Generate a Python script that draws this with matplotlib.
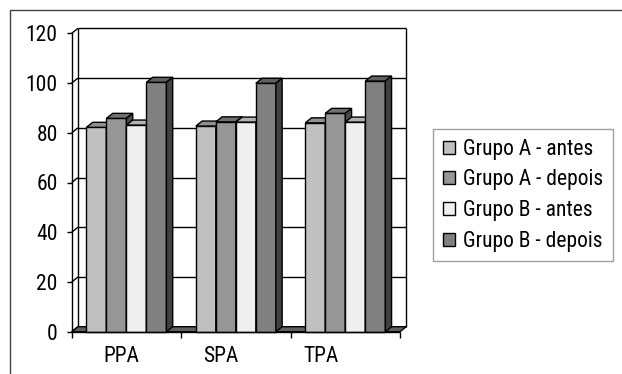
import matplotlib.pyplot as plt
from matplotlib.patches import Polygon, Rectangle
from matplotlib.colors import to_rgb

categories = ['PPA', 'SPA', 'TPA']
series = ['Grupo A - antes', 'Grupo A - depois', 'Grupo B - antes', 'Grupo B - depois']
grupo_a_antes = [82.2, 82.7, 84.0]
grupo_a_depois = [85.8, 84.4, 87.8]
grupo_b_antes = [83.1, 84.3, 84.3]
grupo_b_depois = [100.3, 99.9, 100.8]
y_ticks = [0, 20, 40, 60, 80, 100, 120]

values = [grupo_a_antes, grupo_a_depois, grupo_b_antes, grupo_b_depois]
colors = ['#c0c0c0', '#969696', '#efefef', '#808080']

plt.rcParams['font.family'] = ['Liberation Sans Narrow', 'Roboto Condensed',
                               'DejaVu Sans Condensed', 'Roboto', 'DejaVu Sans']


def shade(c, f):
    r, g, b = to_rgb(c)
    return (r * f, g * f, b * f)


W, H = 622, 374
fig = plt.figure(figsize=(W / 100, H / 100), dpi=100)

# outer frame (cut by the right and bottom edges)
fig.patches.append(Rectangle((9.5 / W, -0.1), 1.2, 1.1 - 10 / H, transform=fig.transFigure,
                             fill=False, edgecolor='#404040', lw=1.0))

# front plane of the 3D plot
ax_l, ax_b, ax_w, ax_h = 71.7 / W, (H - 331.7) / H, 328.3 / W, 298.4 / H
ax = fig.add_axes([ax_l, ax_b, ax_w, ax_h])
ax.set_xlim(-0.5, len(categories) - 0.5)
ax.set_ylim(0, 120)
ax.patch.set_visible(False)
for s in ['top', 'right', 'bottom']:
    ax.spines[s].set_visible(False)
ax.spines['left'].set_linewidth(1.0)

# depth offset, pixels -> data
dx = 6.3 * len(categories) / (ax_w * W)
dy = 5.0 * 120 / (ax_h * H)
x_lo, x_hi = -0.5, len(categories) - 0.5
lc = dict(color='black', lw=1.0, clip_on=False, solid_capstyle='butt')

# back wall gridlines and edges
for v in y_ticks[1:]:
    ax.plot([x_lo + dx, x_hi + dx], [v + dy, v + dy], zorder=1, **lc)
for v in y_ticks:
    ax.plot([x_lo, x_lo + dx], [v, v + dy], zorder=1, **lc)
ax.plot([x_lo + dx, x_lo + dx], [dy, 120 + dy], zorder=1, **lc)
ax.plot([x_hi + dx, x_hi + dx], [dy, 120 + dy], zorder=1, **lc)

# floor
ax.add_patch(Polygon([(x_lo, 0), (x_hi, 0), (x_hi + dx, dy), (x_lo + dx, dy)],
                     closed=True, facecolor='#606060', edgecolor='black', lw=1.0,
                     clip_on=False, zorder=2))

# bars
bw = 20 / 109.43
gap = (1 - len(series) * bw) / 2
handles = []
for k, (vals, c) in enumerate(zip(values, colors)):
    xs = [i - 0.5 + gap + k * bw for i in range(len(categories))]
    bars = ax.bar(xs, vals, width=bw, align='edge', color=c, edgecolor='black',
                  lw=1.0, label=series[k], clip_on=False)
    handles.append(bars)
    for i, (x0, h) in enumerate(zip(xs, vals)):
        z = 3 + (i * len(series) + k) * 0.01
        bars[i].set_zorder(z)
        top = Polygon([(x0, h), (x0 + bw, h), (x0 + bw + dx, h + dy), (x0 + dx, h + dy)],
                      closed=True, facecolor=shade(c, 0.75), edgecolor='black', lw=1.0,
                      clip_on=False, zorder=z)
        side = Polygon([(x0 + bw, 0), (x0 + bw + dx, dy), (x0 + bw + dx, h + dy), (x0 + bw, h)],
                       closed=True, facecolor=shade(c, 0.5), edgecolor='black', lw=1.0,
                       clip_on=False, zorder=z)
        ax.add_patch(top)
        ax.add_patch(side)

# front bottom edge
ax.plot([x_lo, x_hi], [0, 0], zorder=4, **lc)

# ticks
ax.set_yticks(y_ticks)
ax.tick_params(axis='y', direction='out', length=3.6, width=1.0, pad=6.5, labelsize=15.5)
ax.set_xticks([x_lo + i for i in range(len(categories) + 1)])
ax.set_xticklabels([''] * (len(categories) + 1))
ax.tick_params(axis='x', which='major', direction='out', length=4.3, width=1.0)
label_shift = [0.05, 0.14, 0.22]
ax.set_xticks([i - s for i, s in enumerate(label_shift)], minor=True)
ax.set_xticklabels(categories, minor=True)
ax.tick_params(axis='x', which='minor', length=0, pad=10.5, labelsize=15.5)

# legend
leg = fig.legend(handles, series, loc='upper left', bbox_to_anchor=(433 / W, 1 - 129 / H),
                 frameon=True, fancybox=False, edgecolor='#a0a0a0', framealpha=1,
                 fontsize=15.5, handlelength=0.56, handleheight=0.56, handletextpad=0.4,
                 labelspacing=0.45, borderpad=0.45, borderaxespad=0)
leg.get_frame().set_linewidth(1.0)

fig.savefig('out.png', dpi=100)
